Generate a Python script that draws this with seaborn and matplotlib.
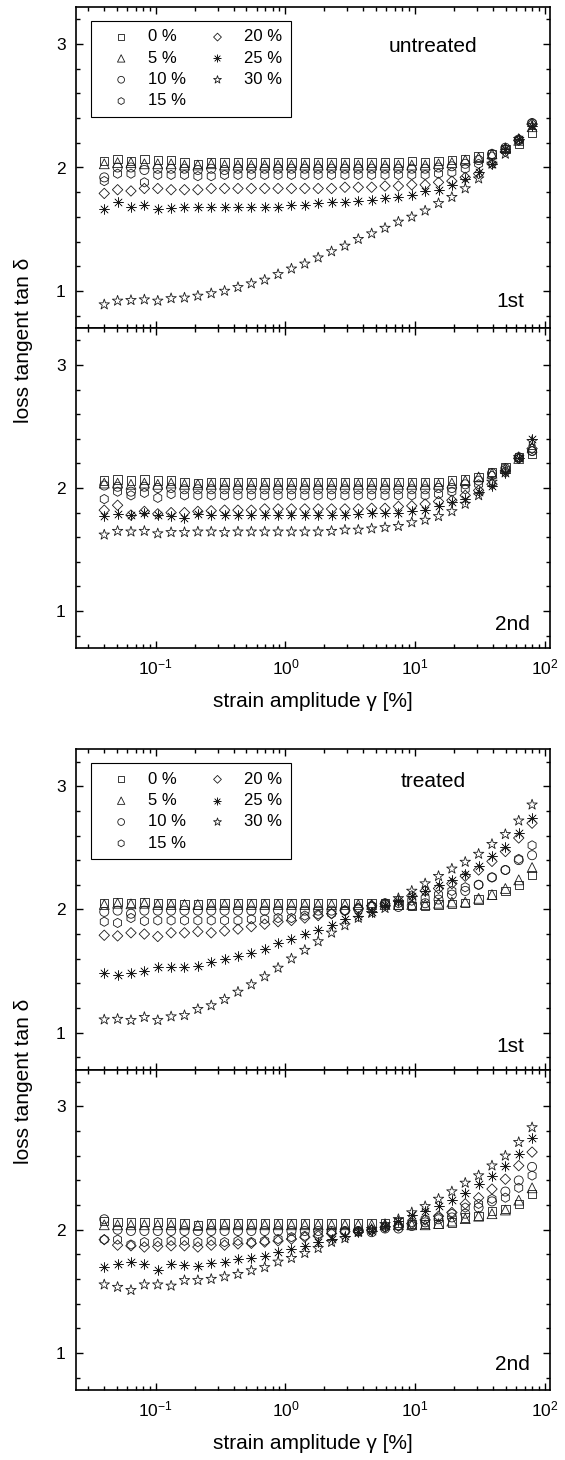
import numpy as np
import pandas as pd
import matplotlib
matplotlib.use("Agg")
import matplotlib.pyplot as plt
import seaborn as sns
from matplotlib.ticker import MultipleLocator, LogLocator, NullFormatter

# strain amplitude gamma [%]
strain = [0.040, 0.0507, 0.0643, 0.0816, 0.1035, 0.1312, 0.1664, 0.211, 0.2676,
          0.3393, 0.4303, 0.5457, 0.692, 0.8775, 1.113, 1.411, 1.789, 2.269,
          2.878, 3.649, 4.627, 5.868, 7.441, 9.437, 11.97, 15.18, 19.24, 24.40,
          30.95, 39.24, 49.77, 63.11, 80.0]

conc_labels = ["0 %", "5 %", "10 %", "15 %", "20 %", "25 %", "30 %"]

# untreated, 1st run
unt1_00 = [2.05, 2.07, 2.05, 2.07, 2.06, 2.06, 2.04, 2.03, 2.04, 2.04, 2.04, 2.04, 2.04, 2.04, 2.04, 2.04, 2.04,
           2.04, 2.04, 2.04, 2.04, 2.04, 2.04, 2.05, 2.04, 2.05, 2.06, 2.07, 2.09, 2.11, 2.15, 2.19, 2.28]
unt1_05 = [2.03, 2.04, 2.04, 2.03, 2.03, 2.03, 2.02, 2.02, 2.03, 2.02, 2.02, 2.02, 2.02, 2.02, 2.02, 2.02, 2.02,
           2.02, 2.02, 2.02, 2.02, 2.02, 2.02, 2.02, 2.02, 2.03, 2.04, 2.06, 2.08, 2.11, 2.16, 2.22, 2.33]
unt1_10 = [1.92, 2.00, 2.00, 1.98, 1.99, 1.99, 1.99, 1.98, 1.99, 1.98, 1.99, 1.99, 1.99, 1.99, 1.99, 1.99, 1.99,
           1.99, 1.99, 1.99, 1.99, 1.99, 1.99, 1.99, 1.99, 2.00, 2.01, 2.03, 2.06, 2.11, 2.16, 2.22, 2.36]
unt1_15 = [1.89, 1.95, 1.95, 1.88, 1.94, 1.94, 1.94, 1.93, 1.93, 1.94, 1.94, 1.94, 1.94, 1.94, 1.94, 1.94, 1.94,
           1.94, 1.94, 1.94, 1.94, 1.94, 1.94, 1.94, 1.94, 1.95, 1.96, 1.99, 2.03, 2.09, 2.15, 2.23, 2.36]
unt1_20 = [1.79, 1.82, 1.81, 1.83, 1.83, 1.82, 1.82, 1.82, 1.83, 1.83, 1.83, 1.83, 1.83, 1.83, 1.83, 1.83, 1.83,
           1.83, 1.84, 1.84, 1.84, 1.85, 1.85, 1.86, 1.86, 1.88, 1.89, 1.92, 1.95, 2.03, 2.13, 2.22, 2.35]
unt1_25 = [1.66, 1.72, 1.68, 1.70, 1.66, 1.67, 1.68, 1.68, 1.68, 1.68, 1.68, 1.68, 1.68, 1.68, 1.70, 1.70, 1.71,
           1.72, 1.72, 1.73, 1.74, 1.75, 1.76, 1.78, 1.81, 1.82, 1.86, 1.91, 1.96, 2.03, 2.15, 2.23, 2.34]
unt1_30 = [0.89, 0.92, 0.925, 0.93, 0.92, 0.94, 0.945, 0.96, 0.98, 1.00, 1.03, 1.06, 1.09, 1.135, 1.18, 1.22, 1.27,
           1.32, 1.365, 1.42, 1.465, 1.51, 1.56, 1.60, 1.65, 1.71, 1.76, 1.83, 1.91, 2.03, 2.11, 2.23, 2.34]

# untreated, 2nd run
unt2_00 = [2.06, 2.07, 2.06, 2.07, 2.06, 2.06, 2.05, 2.04, 2.05, 2.05, 2.05, 2.05, 2.05, 2.05, 2.05, 2.05, 2.05,
           2.05, 2.05, 2.05, 2.05, 2.05, 2.05, 2.05, 2.05, 2.05, 2.06, 2.07, 2.09, 2.13, 2.17, 2.25, 2.28]
unt2_05 = [2.04, 2.04, 2.03, 2.04, 2.03, 2.04, 2.03, 2.03, 2.03, 2.03, 2.03, 2.03, 2.03, 2.03, 2.03, 2.03, 2.03,
           2.03, 2.03, 2.03, 2.03, 2.03, 2.03, 2.03, 2.03, 2.03, 2.04, 2.06, 2.09, 2.12, 2.16, 2.24, 2.33]
unt2_10 = [2.02, 2.01, 1.97, 2.01, 2.00, 2.00, 1.99, 1.99, 1.99, 1.99, 1.99, 1.99, 1.99, 1.99, 1.99, 1.99, 1.99,
           1.99, 1.99, 1.99, 1.99, 1.99, 1.99, 1.99, 1.99, 2.00, 2.00, 2.03, 2.06, 2.12, 2.16, 2.25, 2.30]
unt2_15 = [1.91, 1.97, 1.94, 1.96, 1.92, 1.95, 1.94, 1.94, 1.94, 1.94, 1.94, 1.94, 1.94, 1.94, 1.94, 1.94, 1.94,
           1.94, 1.94, 1.94, 1.94, 1.94, 1.94, 1.94, 1.94, 1.95, 1.97, 1.99, 2.03, 2.10, 2.15, 2.24, 2.30]
unt2_20 = [1.82, 1.86, 1.78, 1.81, 1.79, 1.80, 1.80, 1.81, 1.815, 1.82, 1.82, 1.82, 1.83, 1.83, 1.83, 1.83, 1.83,
           1.83, 1.83, 1.83, 1.835, 1.835, 1.85, 1.855, 1.87, 1.89, 1.90, 1.94, 1.98, 2.03, 2.13, 2.24, 2.32]
unt2_25 = [1.77, 1.79, 1.78, 1.80, 1.78, 1.77, 1.76, 1.79, 1.78, 1.78, 1.78, 1.78, 1.78, 1.78, 1.78, 1.78, 1.78,
           1.78, 1.78, 1.79, 1.80, 1.80, 1.80, 1.81, 1.825, 1.85, 1.89, 1.91, 1.97, 2.02, 2.12, 2.24, 2.40]
unt2_30 = [1.62, 1.65, 1.645, 1.65, 1.63, 1.64, 1.64, 1.645, 1.645, 1.64, 1.645, 1.645, 1.645, 1.645, 1.645, 1.645,
           1.645, 1.65, 1.66, 1.66, 1.67, 1.68, 1.69, 1.72, 1.74, 1.77, 1.81, 1.87, 1.94, 2.05, 2.13, 2.25, 2.38]

# treated, 1st run
trt1_00 = [2.05, 2.06, 2.05, 2.06, 2.05, 2.05, 2.04, 2.04, 2.05, 2.05, 2.05, 2.05, 2.05, 2.05, 2.05, 2.05, 2.05,
           2.05, 2.05, 2.05, 2.05, 2.05, 2.04, 2.03, 2.03, 2.04, 2.045, 2.05, 2.08, 2.12, 2.15, 2.20, 2.28]
trt1_05 = [2.04, 2.05, 2.045, 2.05, 2.04, 2.04, 2.04, 2.04, 2.04, 2.04, 2.04, 2.04, 2.04, 2.04, 2.04, 2.04, 2.04,
           2.04, 2.04, 2.04, 2.04, 2.04, 2.04, 2.04, 2.04, 2.05, 2.06, 2.06, 2.09, 2.12, 2.17, 2.24, 2.34]
trt1_10 = [1.98, 1.99, 1.965, 1.99, 1.99, 1.99, 1.99, 1.99, 1.99, 1.99, 1.99, 1.99, 1.99, 1.99, 1.99, 1.99, 1.99,
           1.99, 1.99, 2.00, 2.02, 2.05, 2.02, 2.03, 2.05, 2.08, 2.12, 2.15, 2.20, 2.26, 2.32, 2.40, 2.44]
trt1_15 = [1.90, 1.89, 1.93, 1.905, 1.91, 1.91, 1.91, 1.91, 1.91, 1.91, 1.91, 1.92, 1.92, 1.93, 1.93, 1.95, 1.96,
           1.965, 1.99, 2.01, 2.03, 2.045, 2.05, 2.07, 2.09, 2.12, 2.15, 2.18, 2.20, 2.26, 2.32, 2.41, 2.52]
trt1_20 = [1.79, 1.785, 1.81, 1.80, 1.78, 1.81, 1.81, 1.82, 1.81, 1.825, 1.84, 1.86, 1.88, 1.90, 1.91, 1.93, 1.95,
           1.965, 1.99, 2.01, 2.03, 2.045, 2.07, 2.11, 2.15, 2.17, 2.21, 2.27, 2.32, 2.39, 2.47, 2.58, 2.70]
trt1_25 = [1.48, 1.47, 1.48, 1.50, 1.53, 1.53, 1.535, 1.54, 1.57, 1.60, 1.62, 1.65, 1.68, 1.73, 1.76, 1.80, 1.83,
           1.87, 1.92, 1.95, 1.98, 2.035, 2.07, 2.11, 2.15, 2.20, 2.24, 2.29, 2.355, 2.43, 2.51, 2.62, 2.745]
trt1_30 = [1.105, 1.11, 1.10, 1.125, 1.10, 1.13, 1.14, 1.19, 1.22, 1.27, 1.33, 1.39, 1.455, 1.525, 1.60, 1.67, 1.74,
           1.81, 1.87, 1.93, 1.97, 2.01, 2.09, 2.15, 2.21, 2.27, 2.33, 2.385, 2.45, 2.53, 2.61, 2.72, 2.85]

# treated, 2nd run
trt2_00 = [2.07, 2.065, 2.06, 2.065, 2.065, 2.06, 2.05, 2.04, 2.05, 2.05, 2.05, 2.05, 2.05, 2.05, 2.05, 2.05, 2.05,
           2.05, 2.05, 2.05, 2.05, 2.05, 2.06, 2.045, 2.045, 2.045, 2.06, 2.10, 2.11, 2.15, 2.17, 2.21, 2.29]
trt2_05 = [2.04, 2.04, 2.04, 2.04, 2.04, 2.04, 2.04, 2.035, 2.04, 2.04, 2.04, 2.04, 2.04, 2.04, 2.04, 2.04, 2.04,
           2.04, 2.04, 2.04, 2.04, 2.04, 2.04, 2.04, 2.04, 2.05, 2.07, 2.09, 2.11, 2.13, 2.16, 2.24, 2.34]
trt2_10 = [2.085, 2.00, 1.99, 1.99, 1.99, 1.99, 1.99, 1.99, 1.99, 1.99, 1.99, 1.99, 1.99, 1.99, 1.99, 1.99, 1.99,
           1.99, 1.99, 1.99, 1.98, 2.01, 2.01, 2.03, 2.06, 2.085, 2.10, 2.13, 2.18, 2.23, 2.31, 2.40, 2.51]
trt2_15 = [1.92, 1.92, 1.88, 1.90, 1.90, 1.91, 1.91, 1.90, 1.91, 1.90, 1.91, 1.90, 1.91, 1.925, 1.94, 1.95, 1.965,
           1.98, 1.985, 1.99, 2.00, 2.02, 2.03, 2.06, 2.085, 2.10, 2.13, 2.18, 2.21, 2.25, 2.26, 2.34, 2.44]
trt2_20 = [1.92, 1.875, 1.87, 1.86, 1.865, 1.87, 1.87, 1.86, 1.875, 1.875, 1.885, 1.89, 1.90, 1.91, 1.925, 1.94,
           1.95, 1.97, 1.985, 1.985, 1.995, 2.02, 2.03, 2.05, 2.08, 2.11, 2.14, 2.21, 2.26, 2.33, 2.41, 2.52, 2.63]
trt2_25 = [1.70, 1.72, 1.74, 1.72, 1.675, 1.72, 1.71, 1.705, 1.73, 1.74, 1.76, 1.77, 1.79, 1.82, 1.845, 1.87, 1.90,
           1.925, 1.95, 1.98, 1.99, 2.03, 2.07, 2.12, 2.15, 2.19, 2.24, 2.30, 2.37, 2.435, 2.52, 2.615, 2.745]
trt2_30 = [1.555, 1.535, 1.51, 1.555, 1.555, 1.545, 1.59, 1.59, 1.60, 1.62, 1.64, 1.67, 1.695, 1.74, 1.77, 1.81,
           1.85, 1.90, 1.93, 1.98, 2.005, 2.045, 2.085, 2.14, 2.19, 2.25, 2.31, 2.38, 2.44, 2.52, 2.60, 2.71, 2.83]

panels = [
    ([unt1_00, unt1_05, unt1_10, unt1_15, unt1_20, unt1_25, unt1_30], "1st", "untreated"),
    ([unt2_00, unt2_05, unt2_10, unt2_15, unt2_20, unt2_25, unt2_30], "2nd", None),
    ([trt1_00, trt1_05, trt1_10, trt1_15, trt1_20, trt1_25, trt1_30], "1st", "treated"),
    ([trt2_00, trt2_05, trt2_10, trt2_15, trt2_20, trt2_25, trt2_30], "2nd", None),
]

sns.set_style("ticks")
plt.rcParams['font.family'] = ['Liberation Sans', 'DejaVu Sans']
plt.rcParams['mathtext.fontset'] = 'custom'
plt.rcParams['mathtext.rm'] = 'Liberation Sans'
plt.rcParams['mathtext.it'] = 'Liberation Sans:italic'
plt.rcParams['mathtext.default'] = 'regular'
for key in ('text.color', 'axes.labelcolor', 'xtick.color', 'ytick.color', 'axes.edgecolor'):
    plt.rcParams[key] = 'black'

marker_list = ['s', '^', 'o', 'h', 'D', (8, 2, 0), '*']
size_list = [36, 50, 42, 44, 28, 50, 62]

fig = plt.figure(figsize=(5.65, 14.6), dpi=100)
L, W = 75.5 / 565, 474.5 / 565
tops = [7, 328, 749.3, 1069.5]
bots = [328, 648, 1069.5, 1390]

axes = []
for i, (series, run, cond) in enumerate(panels):
    y0 = 1 - bots[i] / 1460
    h = (bots[i] - tops[i]) / 1460
    ax = fig.add_axes([L, y0, W, h])
    axes.append(ax)
    for vals, lab, m, s in zip(series, conc_labels, marker_list, size_list):
        df = pd.DataFrame({"strain": strain, "tan": vals})
        if isinstance(m, tuple):
            # asterisk is a line-only marker
            sns.scatterplot(data=df, x="strain", y="tan", marker=m, s=s,
                            color='0.1', linewidth=0.45, label=lab, ax=ax, legend=False)
        else:
            sns.scatterplot(data=df, x="strain", y="tan", marker=m, s=s,
                            facecolors='none', edgecolor='0.1', linewidth=0.6,
                            label=lab, ax=ax, legend=False)
    ax.set_xscale('log')
    ax.set_xlim(0.024, 110)
    ax.set_ylim(0.7, 3.3)
    ax.yaxis.set_major_locator(MultipleLocator(1))
    ax.yaxis.set_minor_locator(MultipleLocator(0.2))
    ax.xaxis.set_major_locator(LogLocator(base=10, numticks=10))
    ax.xaxis.set_minor_locator(LogLocator(base=10, subs=np.arange(2, 10), numticks=20))
    ax.xaxis.set_minor_formatter(NullFormatter())
    ax.tick_params(which='both', direction='in', top=True, right=True, width=1.0, labelsize=12.5)
    ax.tick_params(which='major', length=5)
    ax.tick_params(which='minor', length=3)
    ax.tick_params(axis='y', pad=7)
    ax.tick_params(axis='x', pad=7)
    for sp in ax.spines.values():
        sp.set_linewidth(1.2)
    ax.set_xlabel("")
    ax.set_ylabel("")
    if i in (0, 2):
        ax.tick_params(axis='x', labelbottom=False)

    xr = 0.921 if run == "2nd" else 0.9155
    yr = [0.082, 0.072, 0.071, 0.081][i]
    ax.text(xr, yr, run, transform=ax.transAxes, ha='center', va='center', fontsize=15)
    if cond is not None:
        yc = 0.876 if cond == "untreated" else 0.899
        ax.text(0.754, yc, cond, transform=ax.transAxes, ha='center', va='center', fontsize=15)
        handles, labels = ax.get_legend_handles_labels()
        leg = ax.legend(handles, labels, ncol=2, loc='upper left',
                        bbox_to_anchor=(0.033, 0.956), borderaxespad=0,
                        fontsize=12, frameon=True, fancybox=False,
                        edgecolor='k', framealpha=1, markerscale=0.75,
                        handlelength=2.6, handletextpad=0.3, labelspacing=0.38,
                        columnspacing=0.6, borderpad=0.5)
        leg.get_frame().set_linewidth(0.8)

for ax in (axes[1], axes[3]):
    ax.set_xlabel("strain amplitude \u03b3 [%]", fontsize=15, labelpad=10)

for yc in (340, 1081):
    fig.text(24 / 565, 1 - yc / 1460, "loss tangent tan \u03b4", rotation=90,
             ha='center', va='center', fontsize=15)

fig.savefig("out.png", dpi=100)
